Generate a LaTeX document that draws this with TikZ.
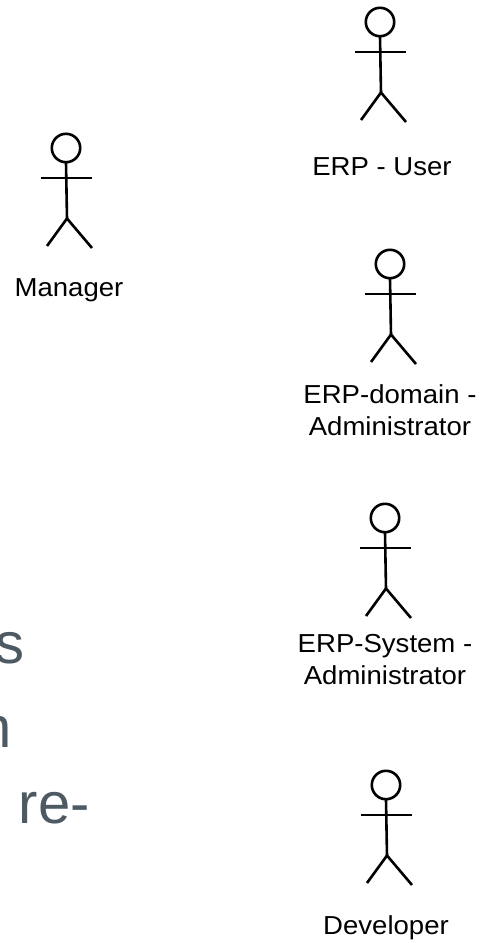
\documentclass[tikz,border=0pt]{standalone}
\usepackage{fontspec}
\setmainfont{Liberation Sans}
\definecolor{slate}{HTML}{4D5A62}
\tikzset{
  px/.style={x=1pt,y=-1pt},
  limb/.style={draw=black,line width=2.6pt,line cap=butt,line join=miter},
  lbl/.style={inner sep=0pt,align=center,text=black,font=\fontsize{26}{32}\selectfont,xscale=1.06},
  big/.style={inner sep=0pt,anchor=base east,text=slate,font=\fontsize{58}{58}\selectfont},
  actor/.pic={
    \draw[limb] (0,0) circle (14.2);
    \draw[limb] (0,14.5) -- (1,71);
    \draw[limb] (-25.5,30) -- (25.5,30);
    \draw[limb] (1,70.5) -- (-19,98);
    \draw[limb] (1,70.5) -- (26,100);
  }
}
\begin{document}
\begin{tikzpicture}[px]
\useasboundingbox (0,0) rectangle (480,943);
\pic at (66,148) {actor};
\pic at (380,22) {actor};
\pic at (390,264) {actor};
\pic at (385,518) {actor};
\pic at (386,785) {actor};
\node[lbl] (manager) at (69,290) {Manager};
\node[lbl] (user) at (382,167) {ERP - User};
\node[lbl] (domain) at (390,410) {ERP-domain -\\Administrator};
\node[lbl] (system) at (385,660) {ERP-System -\\Administrator};
\node[lbl] (dev) at (386,928) {Developer};
\node[big] (l1) at (25,663) {s};
\node[big] (l2) at (12,747) {n};
\node[big] (l3) at (90,823) {re-};
\end{tikzpicture}
\end{document}
